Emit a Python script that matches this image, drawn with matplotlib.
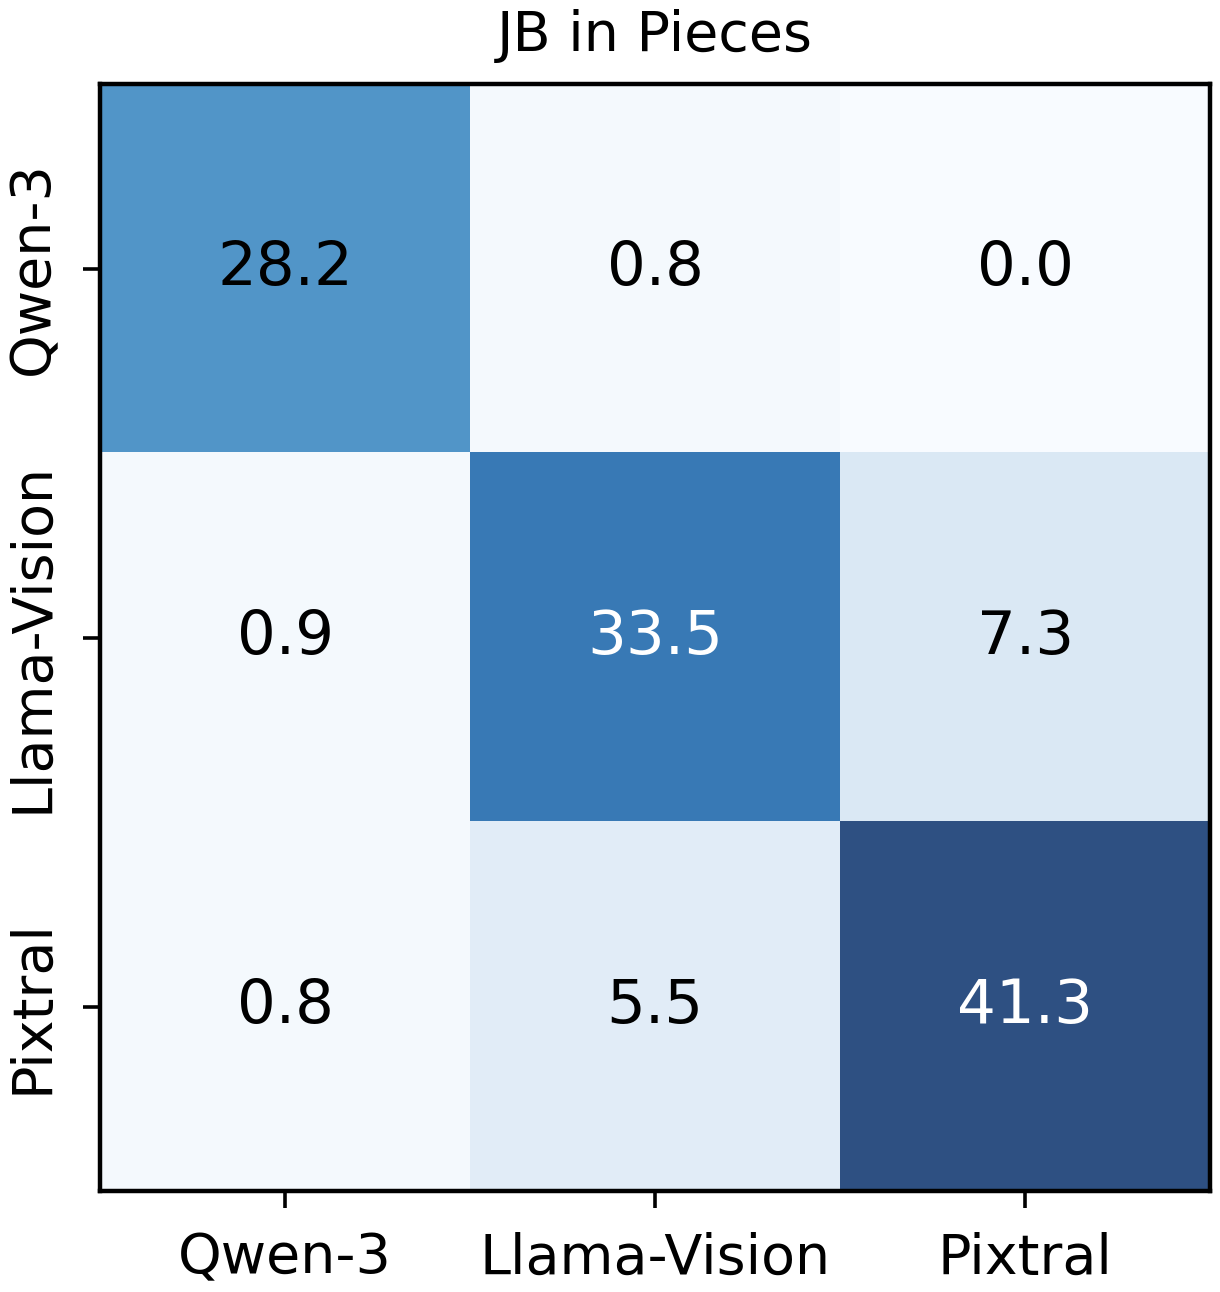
import numpy as np
import matplotlib
matplotlib.use("Agg")
import matplotlib.pyplot as plt

labels = ["Qwen-3", "Llama-Vision", "Pixtral"]
values = np.array([
    [28.2, 0.8, 0.0],
    [0.9, 33.5, 7.3],
    [0.8, 5.5, 41.3],
])
title = "JB in Pieces"

fig = plt.figure(figsize=(6.1, 6.46), dpi=200)
ax = fig.add_axes([0.082, 0.078, 0.910, 0.857])
ax.imshow(values, cmap="Blues", vmin=0, vmax=values.max(), alpha=0.85, aspect="auto")
for i in range(values.shape[0]):
    for j in range(values.shape[1]):
        v = values[i, j]
        ax.text(j, i, f"{v:.1f}", ha="center", va="center", fontsize=22,
                color="white" if v > 30 else "black")
ax.set_xticks(range(len(labels)))
ax.set_xticklabels(labels, fontsize=20)
ax.set_yticks(range(len(labels)))
ax.set_yticklabels(labels, fontsize=20, rotation=90, va="center")
ax.tick_params(length=6, width=1.3, pad=8.5)
for s in ax.spines.values():
    s.set_linewidth(1.6)
ax.set_title(title, fontsize=20, pad=12)
fig.savefig("out.png", dpi=200)
